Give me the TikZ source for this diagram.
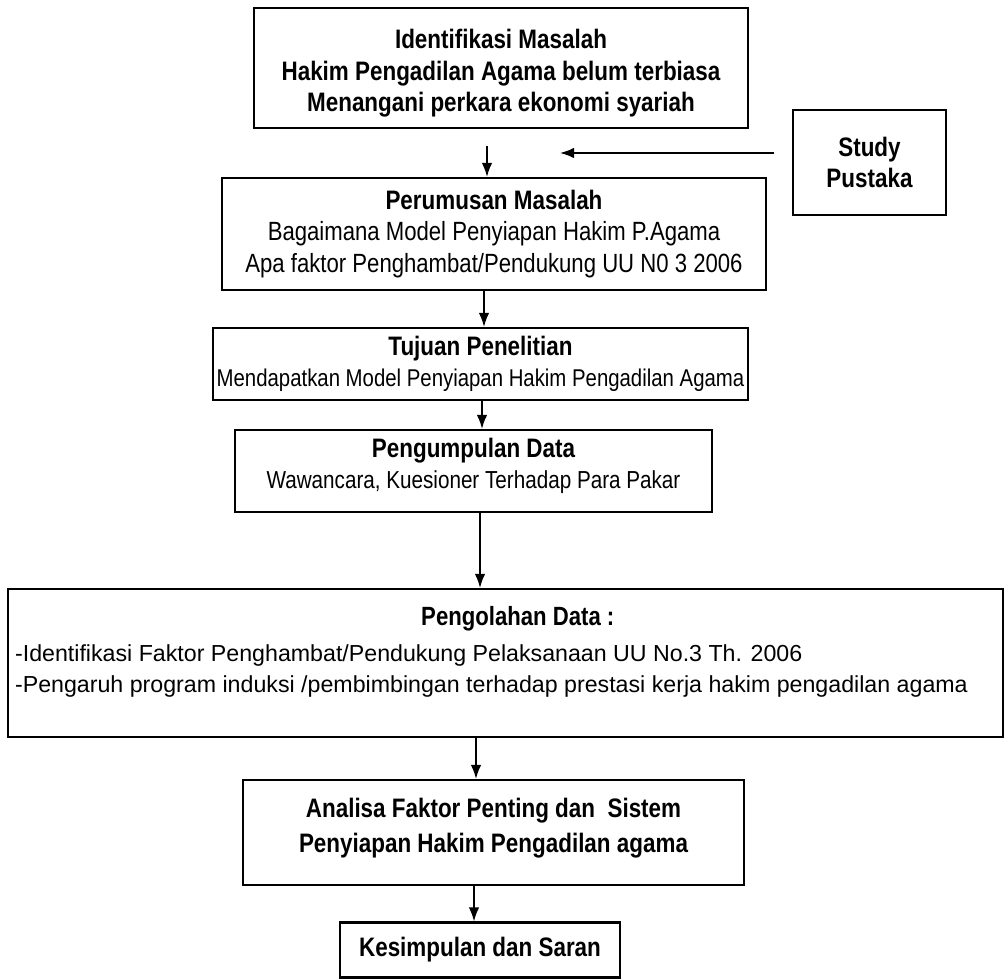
\documentclass[tikz,border=0pt]{standalone}
\usepackage{fontspec}
\setmainfont{Liberation Sans}[FakeStretch=0.84]
\newfontfamily\lebar{Liberation Sans}
\usepackage{tikz}
\usetikzlibrary{arrows.meta}

\newcommand{\judul}{\fontsize{15.2}{17.8}\selectfont\bfseries}
\newcommand{\isi}[1]{\fontsize{#1}{17.8}\selectfont}

\begin{document}
\begin{tikzpicture}[x=0.02cm, y=-0.02cm, thick,
  kotak/.style={draw, line width=1.2pt, align=center, inner sep=0pt,
    font=\fontsize{15}{17.8}\selectfont},
  pijl/.style={-{Latex[length=8pt, width=6pt]}, line width=1pt}]
  \useasboundingbox (0,0) rectangle (1007,979);

  \node[kotak, minimum width=9.88cm, minimum height=2.4cm] (A) at (501,68)
    {\judul\rule{0pt}{17pt}Identifikasi Masalah\\ \judul Hakim Pengadilan Agama belum terbiasa\\ \judul Menangani perkara ekonomi syariah};
  \node[kotak, minimum width=3.06cm, minimum height=2.1cm] (B) at (869.5,162.5)
    {\isi{15.2}\bfseries Study\\ \isi{15.2}\bfseries Pustaka};

  \node[kotak, minimum width=10.88cm, minimum height=2.24cm] (C) at (494,234)
    {\judul Perumusan Masalah\\ \isi{15}Bagaimana Model Penyiapan Hakim P.Agama\\ \isi{15}Apa faktor Penghambat/Pendukung UU N0 3 2006};
  \node[kotak, minimum width=10.7cm, minimum height=1.44cm] (D) at (480.5,364)
    {\judul Tujuan Penelitian\\ \isi{13.8}Mendapatkan Model Penyiapan Hakim Pengadilan Agama};
  \node[kotak, minimum width=9.54cm, minimum height=1.64cm] (E) at (473.5,471)
    {\judul Pengumpulan Data\\ \isi{14}Wawancara, Kuesioner Terhadap Para Pakar\rule[-9pt]{0pt}{9pt}};

  \node[kotak, align=left, text width=19.62cm, inner xsep=0.14cm, minimum height=2.96cm,
    font=\fontsize{13.2}{18}\selectfont] (F) at (505.5,663)
    {\spaceskip=0pt \xspaceskip=0pt
     \makebox[\hsize]{\fontsize{15}{17}\selectfont\bfseries\hspace*{14pt}Pengolahan Data :}\\[2pt]
     \lebar -Identifikasi Faktor Penghambat/Pendukung Pelaksanaan UU No.3 Th. 2006\\
     \lebar -Pengaruh program induksi /pembimbingan terhadap prestasi kerja hakim pengadilan agama\rule[-15pt]{0pt}{15pt}};

  \node[kotak, minimum width=10.02cm, minimum height=2.1cm] (G) at (493.5,832.5)
    {\judul Analisa Faktor Penting dan \ Sistem\\[2pt] \judul Penyiapan Hakim Pengadilan agama\rule[-8pt]{0pt}{8pt}};
  \node[kotak, minimum width=5.6cm, minimum height=1.1cm] (H) at (480,950)
    {\judul Kesimpulan dan Saran};

  \coordinate (P) at (560,153);
  \draw[pijl] ([xshift=-0.36cm, yshift=0.19cm]B.west) -- (P);

  \draw[pijl] ([xshift=-0.28cm, yshift=-0.34cm]A.south) -- ([xshift=-0.14cm]C.north);
  \draw[pijl] ([xshift=-0.2cm]C.south) -- ([xshift=0.07cm]D.north);
  \draw[pijl] ([xshift=0.03cm]D.south) -- ([xshift=0.17cm]E.north);
  \draw[pijl] ([xshift=0.13cm]E.south) -- ([xshift=-0.51cm]F.north);
  \draw[pijl] ([xshift=-0.59cm]F.south) -- ([xshift=-0.35cm]G.north);
  \draw[pijl] ([xshift=-0.39cm]G.south) -- ([xshift=-0.12cm]H.north);
\end{tikzpicture}
\end{document}
